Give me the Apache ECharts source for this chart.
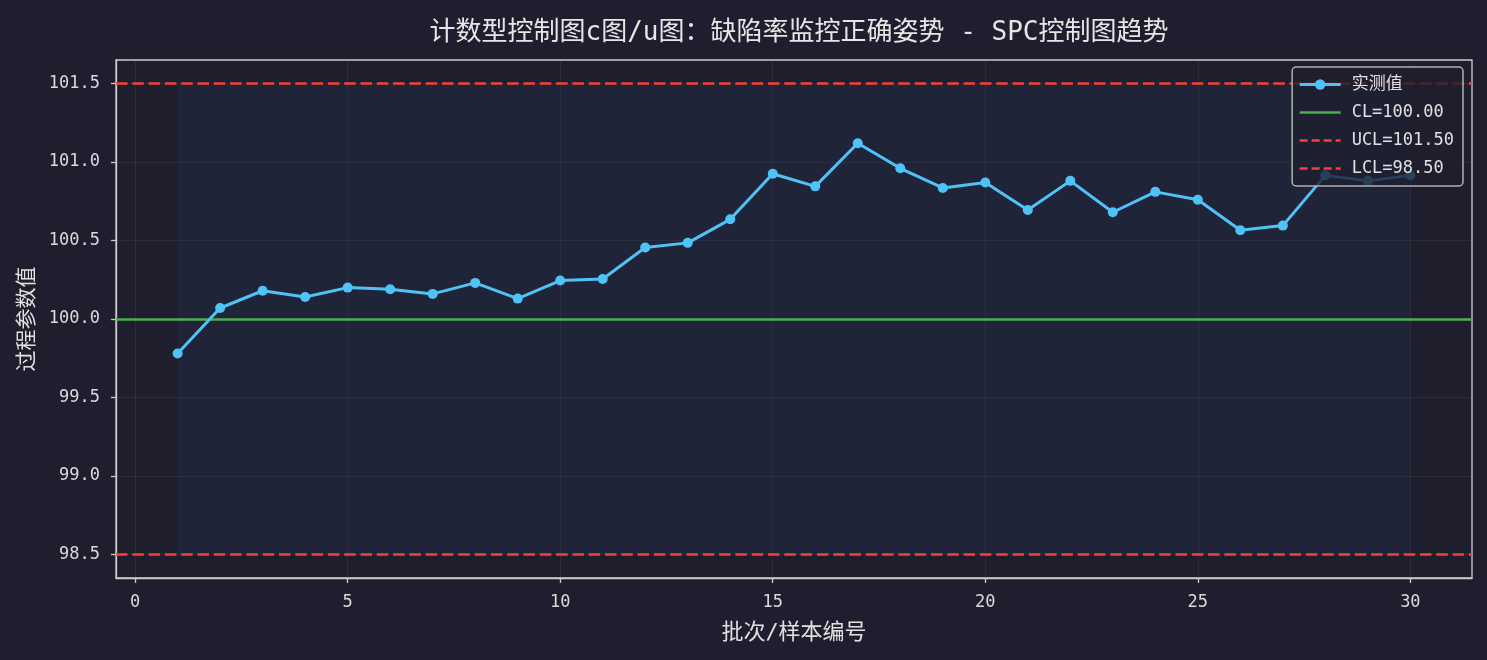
<!DOCTYPE html>
<html>
<head>
<meta charset="utf-8">
<script src="https://cdn.jsdelivr.net/npm/echarts@6/dist/echarts.min.js"></script>
<style>
html,body{margin:0;padding:0;background:#1e1e2e;}
#c{width:1487px;height:660px;}
</style>
</head>
<body>
<div id="c"></div>
<script>
const batches = [1,2,3,4,5,6,7,8,9,10,11,12,13,14,15,16,17,18,19,20,21,22,23,24,25,26,27,28,29,30];
const measured = [99.78,100.07,100.18,100.14,100.20,100.19,100.16,100.23,100.13,100.245,100.255,100.455,100.485,100.635,100.925,100.845,101.12,100.96,100.835,100.87,100.695,100.88,100.68,100.81,100.76,100.565,100.595,100.915,100.88,100.915];
const CL = 100.00, UCL = 101.50, LCL = 98.50;
const xTicks = [0,5,10,15,20,25,30];
const yTicks = [98.5,99.0,99.5,100.0,100.5,101.0,101.5];
const xRange = [-0.45, 31.45];
const yRange = [98.35, 101.65];

const FONT = '"DejaVu Sans Mono", "Noto Sans CJK SC", monospace';
const chart = echarts.init(document.getElementById('c'));
const axisCol = '#cccccc';
const gridCol = 'rgba(255,255,255,0.06)';
const dash = [11.5, 4.8];
const clName = 'CL=' + CL.toFixed(2), uclName = 'UCL=' + UCL.toFixed(2), lclName = 'LCL=' + LCL.toFixed(2);

chart.setOption({
  backgroundColor: '#1e1e2e',
  animation: false,
  title: {
    text: '计数型控制图c图/u图：缺陷率监控正确姿势 - SPC控制图趋势',
    left: 794, textAlign: 'center', top: 15,
    textStyle: {color: '#e6e6e6', fontSize: 26, fontWeight: 'normal', fontFamily: FONT}
  },
  grid: {
    left: 116, right: 15, top: 60, bottom: 82,
    show: true, backgroundColor: '#1f1e2c', borderColor: axisCol, borderWidth: 1.3
  },
  legend: {
    right: 24, top: 67, orient: 'vertical', align: 'left', z: 20,
    backgroundColor: 'rgba(30,30,46,0.8)',
    borderColor: '#b0b0b0', borderWidth: 1.5, borderRadius: 4,
    padding: [9, 9, 9, 6], itemGap: 11, itemWidth: 41, itemHeight: 13,
    textStyle: {color: '#e0e0e0', fontSize: 17, fontFamily: FONT, padding: [0, 0, 0, 6]},
    data: [
      {name: '实测值', lineStyle: {width: 3}},
      {name: clName, itemStyle: {opacity: 0}, lineStyle: {width: 2.6, color: '#4caf50'}},
      {name: uclName, itemStyle: {opacity: 0}, lineStyle: {width: 2.6, color: '#f44336', type: [8, 4]}},
      {name: lclName, itemStyle: {opacity: 0}, lineStyle: {width: 2.6, color: '#f44336', type: [8, 4]}}
    ]
  },
  xAxis: {
    type: 'value', min: xRange[0], max: xRange[1],
    name: '批次/样本编号', nameLocation: 'middle', nameGap: 44,
    nameTextStyle: {color: '#e0e0e0', fontSize: 22, fontFamily: FONT},
    axisLine: {show: true, onZero: false, lineStyle: {color: axisCol, width: 1.3}},
    axisTick: {show: true, length: 5, lineStyle: {color: axisCol, width: 1.3}, customValues: xTicks},
    axisLabel: {color: '#dadada', fontSize: 17, fontFamily: FONT, margin: 16, customValues: xTicks, formatter: v => String(v)},
    splitLine: {show: true, lineStyle: {color: gridCol, width: 1}}
  },
  yAxis: {
    type: 'value', min: yRange[0], max: yRange[1],
    name: '过程参数值', nameLocation: 'middle', nameGap: 78, nameRotate: 90,
    nameTextStyle: {color: '#e0e0e0', fontSize: 21, fontFamily: FONT},
    axisLine: {show: true, onZero: false, lineStyle: {color: axisCol, width: 1.3}},
    axisTick: {show: true, length: 5, lineStyle: {color: axisCol, width: 1.3}, customValues: yTicks},
    axisLabel: {color: '#dadada', fontSize: 17, fontFamily: FONT, margin: 16, customValues: yTicks, formatter: v => v.toFixed(1)},
    splitLine: {show: true, lineStyle: {color: gridCol, width: 1}}
  },
  series: [
    {
      name: '实测值', type: 'line', z: 5,
      data: batches.map((b, i) => [b, measured[i]]),
      symbol: 'circle', symbolSize: 10,
      lineStyle: {color: '#4fc3f7', width: 3},
      itemStyle: {color: '#4fc3f7'},
      markArea: {
        silent: true,
        itemStyle: {color: 'rgba(38,53,87,0.3)'},
        data: [[{xAxis: batches[0], yAxis: LCL}, {xAxis: batches[batches.length - 1], yAxis: UCL}]]
      }
    },
    {
      name: clName, type: 'line', data: [], symbol: 'none', z: 3,
      lineStyle: {color: '#4caf50', width: 2.5}, itemStyle: {color: '#4caf50', opacity: 0},
      markLine: {silent: true, symbol: 'none', label: {show: false},
        lineStyle: {color: '#4caf50', width: 2.5, type: 'solid', opacity: 1}, data: [{yAxis: CL}]}
    },
    {
      name: uclName, type: 'line', data: [], symbol: 'none', z: 3,
      lineStyle: {color: '#f44336', width: 2.5, type: dash}, itemStyle: {color: '#f44336', opacity: 0},
      markLine: {silent: true, symbol: 'none', label: {show: false},
        lineStyle: {color: '#f44336', width: 2.5, type: dash, opacity: 1}, data: [{yAxis: UCL}]}
    },
    {
      name: lclName, type: 'line', data: [], symbol: 'none', z: 3,
      lineStyle: {color: '#f44336', width: 2.5, type: dash}, itemStyle: {color: '#f44336', opacity: 0},
      markLine: {silent: true, symbol: 'none', label: {show: false},
        lineStyle: {color: '#f44336', width: 2.5, type: dash, opacity: 1}, data: [{yAxis: LCL}]}
    }
  ]
});
</script>
</body>
</html>
